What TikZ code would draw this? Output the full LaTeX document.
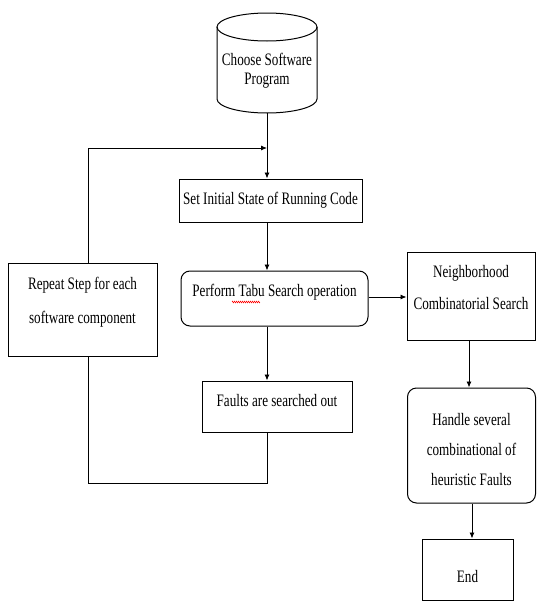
\documentclass[tikz,border=0pt]{standalone}
\usepackage{fontspec}
\setmainfont{Liberation Serif}[FakeStretch=0.75]
\usetikzlibrary{arrows.meta,decorations.pathmorphing}
\begin{document}
\begin{tikzpicture}[x=1pt,y=-1pt,
  every node/.style={font=\fontsize{17.5}{30}\selectfont, align=center, inner sep=0pt},
  boxr/.style={draw, line width=1pt},
  boxround/.style={draw, line width=1pt, rounded corners=9pt},
  conn/.style={line width=0.9pt},
  arr/.style={conn, -{Latex[length=6pt,width=5pt]}}]
\useasboundingbox (0,0) rectangle (536,608);
% cylinder
\draw[line width=1pt] (217,27) -- (217,99) arc[start angle=180,end angle=0,x radius=50,y radius=14] -- (317,27);
\draw[line width=1pt] (267,27) ellipse[x radius=50,y radius=14];
\node[font=\fontsize{17.5}{19}\selectfont] (cyl) at (267,71) {Choose Software\\Program};
\coordinate (cylb) at (267,113);
% boxes
\node[boxr, minimum width=183pt, minimum height=43pt] (set) at (270.5,200.5) {Set Initial State of Running Code};
\node[boxround, minimum width=187pt, minimum height=55pt, text depth=16pt] (perf) at (274.5,298.5) {Perform Tabu Search operation};
\node[boxr, minimum width=149pt, minimum height=93pt, font=\fontsize{17.5}{34}\selectfont, text depth=19pt] (rep) at (82.5,309.5) {Repeat Step for each\\software component};
\node[boxr, minimum width=150pt, minimum height=51pt, text depth=12pt] (flt) at (277,406.5) {Faults are searched out};
\node[boxr, minimum width=128pt, minimum height=88pt, font=\fontsize{17.5}{32}\selectfont, text depth=17pt] (nb) at (471,296) {Neighborhood\\Combinatorial Search};
\node[boxround, minimum width=128pt, minimum height=115pt, text height=83pt, text depth=4pt] (hd) at (471.5,445.5) {Handle several\\combinational of\\heuristic Faults};
\node[boxr, minimum width=91pt, minimum height=61pt, text height=27pt] (end) at (467.5,569.5) {End};
% spell-check underline
\draw[red, line width=0.5pt, decoration={zigzag,segment length=2pt,amplitude=0.8pt}, decorate] (232,302) -- (260,302);
% connectors
\draw[arr] (cylb) -- (cylb |- set.north);
\coordinate (lt) at (88,148);
\coordinate (lm) at (267,148);
\draw[arr] (rep.north -| lt) -- (lt) -- (lm);
\draw[arr] (set.south -| cylb) -- (perf.north -| cylb);
\draw[arr] (perf.south -| cylb) -- (flt.north -| cylb);
\coordinate (lb) at (88,483);
\draw[conn] (flt.south -| cylb) -- (cylb |- lb) -- (lb) -- (rep.south -| lb);
\draw[arr] (perf.east |- 0,297) -- (nb.west |- 0,297);
\draw[arr] (nb.south -| 469,0) -- (hd.north -| 469,0);
\draw[arr] (hd.south -| 472,0) -- (end.north -| 472,0);
\end{tikzpicture}
\end{document}
